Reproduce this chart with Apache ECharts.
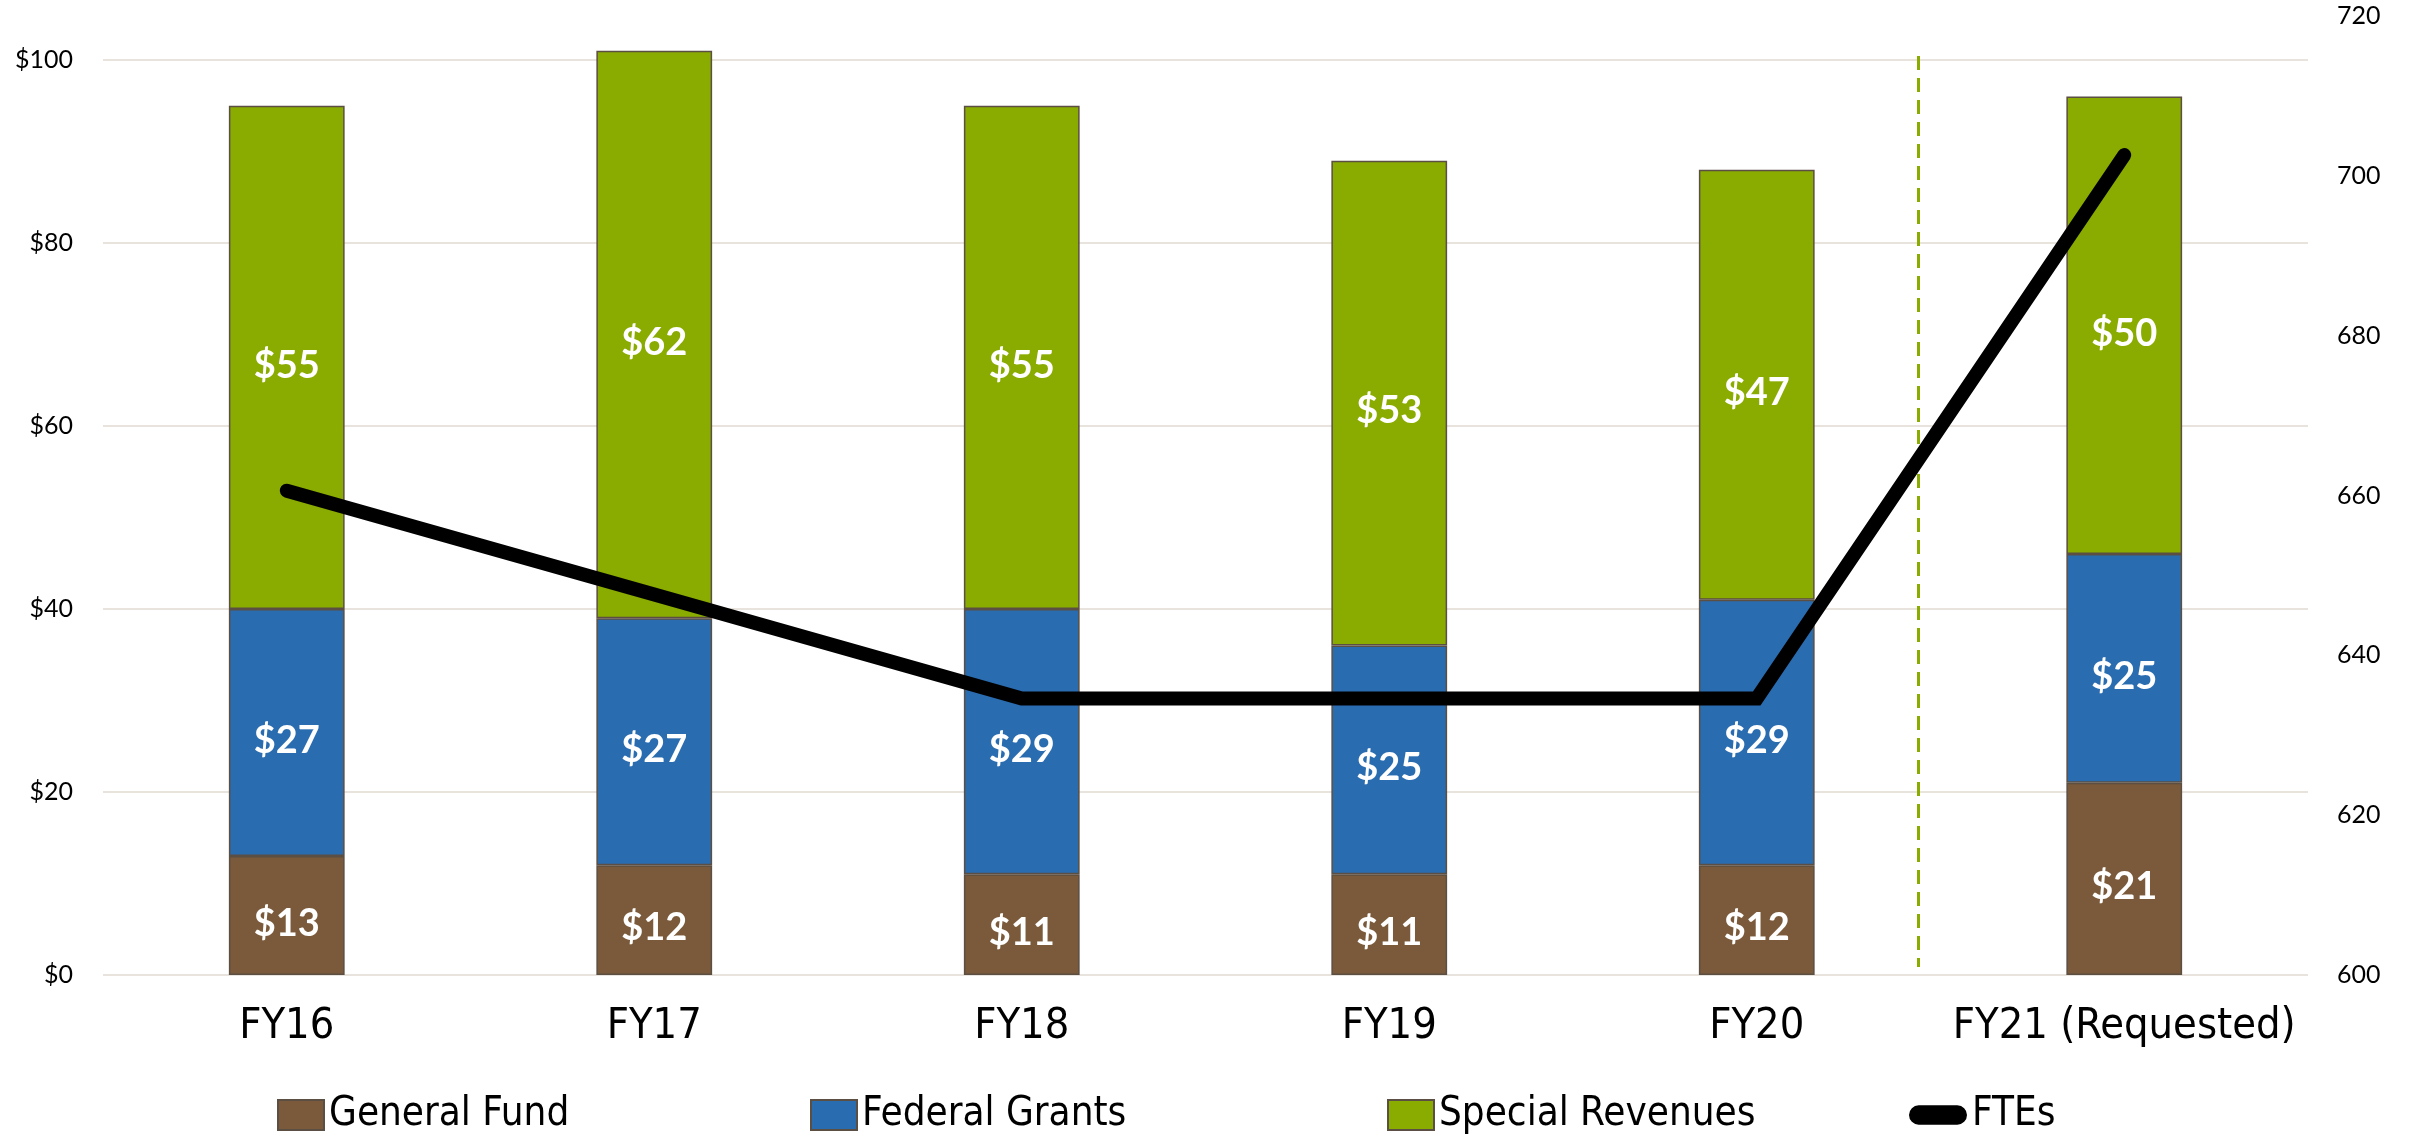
<!DOCTYPE html>
<html>
<head>
<meta charset="utf-8">
<script src="https://cdn.jsdelivr.net/npm/echarts@6/dist/echarts.min.js"></script>
<style>
  html, body { margin: 0; padding: 0; background: #fff; }
  #chart { width: 2413px; height: 1135px; }
</style>
</head>
<body>
<div id="chart"></div>
<script>
// 预算构成 + FTE 人数

const years = ['FY16', 'FY17', 'FY18', 'FY19', 'FY20', 'FY21 (Requested)'];
const generalFund = [13, 12, 11, 11, 12, 21];
const federalGrants = [27, 27, 29, 25, 29, 25];
const specialRevenues = [55, 62, 55, 53, 47, 50];
const ftes = [660.6, 647.6, 634.6, 634.6, 634.6, 702.6];

// 虚线分隔（FY20 / FY21 之间）
const splitX = 4.44;
const splitRange = [715, 601];

const COLORS = { gf: '#7a5a3a', fg: '#2a6cb0', sr: '#8aab00', line: '#000' };
const NARROW = '"Liberation Sans Narrow", "DejaVu Sans Condensed", sans-serif';
const NUM = 'Lato, "Open Sans", sans-serif';

const chart = echarts.init(document.getElementById('chart'));

const barStyle = color => ({ color, borderColor: '#5b4e42', borderWidth: 1.5 });
const barLabel = {
  show: true, position: 'inside', offset: [0, 8], color: '#fff', fontWeight: 'bold',
  fontSize: 38, fontFamily: NUM, formatter: p => '$' + p.value,
};

function bar(name, data, color) {
  return {
    name, type: 'bar', stack: 'fund', data, barWidth: '31.5%', clip: false,
    xAxisIndex: 0, yAxisIndex: 0,
    itemStyle: barStyle(color), label: barLabel,
  };
}

const legendBase = {
  top: 1090, itemWidth: 46, itemHeight: 30, icon: 'rect', itemGap: 10,
  textStyle: { fontSize: 40, fontFamily: NARROW, color: '#000' },
  selectedMode: false,
};

chart.setOption({
  animation: false,
  backgroundColor: '#fff',
  grid: [
    { left: 103, right: 105, top: 60, bottom: 160 },
    { left: 103, right: 105, top: 16, bottom: 160 },
  ],
  legend: [
    { ...legendBase, left: 272, data: ['General Fund'] },
    { ...legendBase, left: 805, data: ['Federal Grants'] },
    { ...legendBase, left: 1382, data: ['Special Revenues'] },
    { ...legendBase, left: 1904, itemWidth: 58, itemHeight: 20, data: [{
      name: 'FTEs', icon: 'path://M10,0 L50,0 A10,10 0 0 1 50,20 L10,20 A10,10 0 0 1 10,0 Z' }] },
  ],
  xAxis: [
    {
      type: 'category', data: years, gridIndex: 0,
      axisLine: { show: false }, axisTick: { show: false },
      axisLabel: { interval: 0, fontSize: 43, fontFamily: NARROW, color: '#000', margin: 30 },
    },
    { type: 'value', gridIndex: 1, min: -0.5, max: 5.5, show: false },
  ],
  yAxis: [
    {
      type: 'value', gridIndex: 0, min: 0, max: 100, interval: 20,
      axisLine: { show: false }, axisTick: { show: false },
      splitLine: { lineStyle: { color: '#e8e3dd', width: 2 } },
      axisLabel: { fontSize: 25, fontFamily: NUM, color: '#000', margin: 30, formatter: v => '$' + v },
    },
    {
      type: 'value', gridIndex: 1, position: 'right', min: 600, max: 720, interval: 20,
      axisLine: { show: false }, axisTick: { show: false }, splitLine: { show: false },
      axisLabel: { fontSize: 25, fontFamily: NUM, color: '#000', margin: 29 },
    },
  ],
  series: [
    bar('General Fund', generalFund, COLORS.gf),
    bar('Federal Grants', federalGrants, COLORS.fg),
    bar('Special Revenues', specialRevenues, COLORS.sr),
    {
      name: 'FTEs', type: 'line', xAxisIndex: 1, yAxisIndex: 1,
      data: ftes.map((v, i) => [i, v]),
      symbol: 'none', z: 5,
      itemStyle: { color: COLORS.line },
      lineStyle: { color: COLORS.line, width: 14, cap: 'round', join: 'miter' },
      markLine: {
        silent: true, symbol: 'none', label: { show: false },
        lineStyle: { color: COLORS.sr, width: 3, type: [14, 8] },
        data: [[{ coord: [splitX, splitRange[0]] }, { coord: [splitX, splitRange[1]] }]],
      },
    },
  ],
});
</script>
</body>
</html>
